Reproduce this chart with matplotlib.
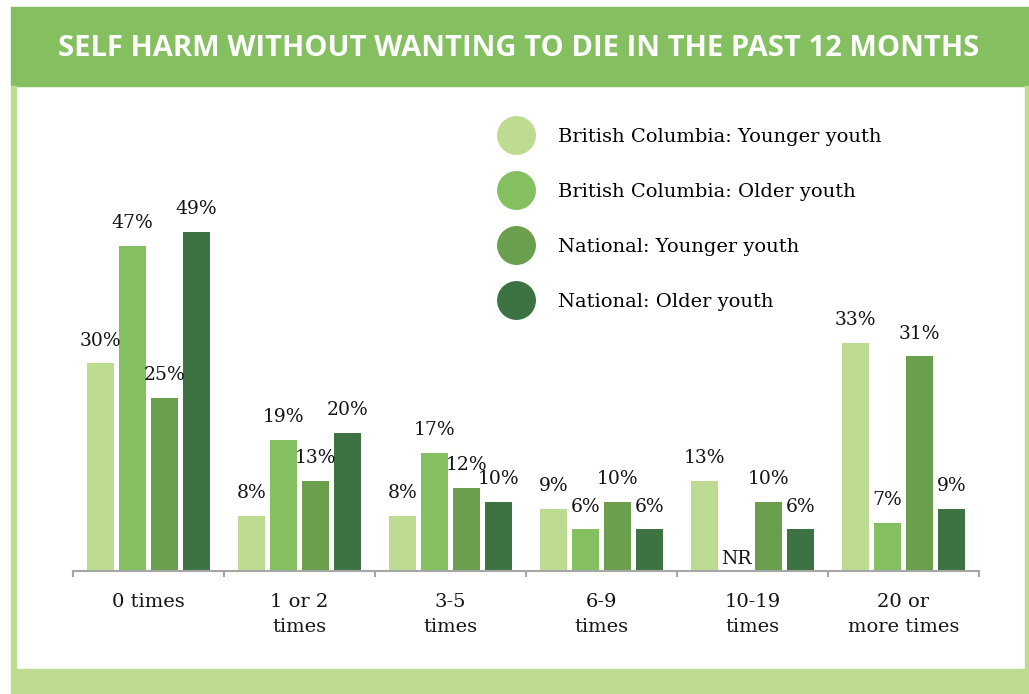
import matplotlib
matplotlib.use("Agg")
import matplotlib.pyplot as plt
from matplotlib.patches import Rectangle
from matplotlib.lines import Line2D
import numpy as np

categories = ["0 times", "1 or 2\ntimes", "3-5\ntimes", "6-9\ntimes", "10-19\ntimes", "20 or\nmore times"]
series_names = [
    "British Columbia: Younger youth",
    "British Columbia: Older youth",
    "National: Younger youth",
    "National: Older youth",
]
bc_younger = [30, 8, 8, 9, 13, 33]
bc_older = [47, 19, 17, 6, None, 7]   # None -> not reportable
nat_younger = [25, 13, 12, 10, 10, 31]
nat_older = [49, 20, 10, 6, 6, 9]
title = "SELF HARM WITHOUT WANTING TO DIE IN THE PAST 12 MONTHS"

colors = ["#bddc91", "#84c060", "#6a9f4d", "#3d7242"]
header_green = "#84c060"
frame_green = "#bddc91"
text_col = "#141414"

W, H = 1029, 694
fig = plt.figure(figsize=(W / 100, H / 100), dpi=100)


def px_rect(x0, y0, x1, y1, color):
    # rectangle given in pixel coords measured from the top-left corner
    fig.patches.append(Rectangle((x0 / W, 1 - y1 / H), (x1 - x0) / W, (y1 - y0) / H,
                                 transform=fig.transFigure, color=color, zorder=0))


# frame: header band, side stripes, footer band
px_rect(11, 7, W, 86, header_green)
px_rect(11, 86, 16, 669, frame_green)
px_rect(1025, 86, W, 669, frame_green)
px_rect(11, 669, W, H, frame_green)

fig.text(519 / W, 1 - 48 / H, title, color="white", fontsize=21, fontweight="bold",
         family="Open Sans", ha="center", va="center")

ax = fig.add_axes([73 / W, (H - 571) / H, (979 - 73) / W, (571 - 100) / H])
ax.set_xlim(-0.5, len(categories) - 0.5)
ax.set_ylim(0, 471 / 6.92)

serif = "DejaVu Serif"
fs = 13.5
x = np.arange(len(categories))
width = 0.18
step = 0.212
all_series = [bc_younger, bc_older, nat_younger, nat_older]
for i, (vals, col) in enumerate(zip(all_series, colors)):
    offs = (i - 1.5) * step
    for xi, v in zip(x, vals):
        if v is None:
            ax.annotate("NR", (xi + offs, 0), xytext=(0, 2), textcoords="offset points",
                        ha="center", va="bottom", fontsize=fs, family=serif, color=text_col)
            continue
        ax.bar(xi + offs, v, width=width, color=col, zorder=2)
        ax.annotate(f"{v}%", (xi + offs, v), xytext=(0, 10), textcoords="offset points",
                    ha="center", va="bottom", fontsize=fs, family=serif, color=text_col)

for side in ["left", "right", "top"]:
    ax.spines[side].set_visible(False)
ax.spines["bottom"].set_color("#a6a6a6")
ax.spines["bottom"].set_linewidth(1.5)
ax.set_yticks([])
ax.set_xticks(x)
ax.set_xticklabels(categories, fontsize=14, family=serif, color=text_col, linespacing=1.45)
ax.tick_params(axis="x", which="major", length=0, pad=16)
ax.set_xticks(np.arange(-0.5, len(categories)), minor=True)
ax.tick_params(axis="x", which="minor", length=4, width=1.5, color="#a6a6a6", direction="out")

handles = [Line2D([], [], marker="o", linestyle="", markersize=27, markerfacecolor=c,
                  markeredgecolor=c) for c in colors]
ax.legend(handles, series_names, loc="upper left", bbox_to_anchor=(0.459, 0.957),
          frameon=False, prop={"family": serif, "size": 14}, labelspacing=1.9,
          handletextpad=1.15, borderaxespad=0)

fig.savefig("out.png", dpi=100)
